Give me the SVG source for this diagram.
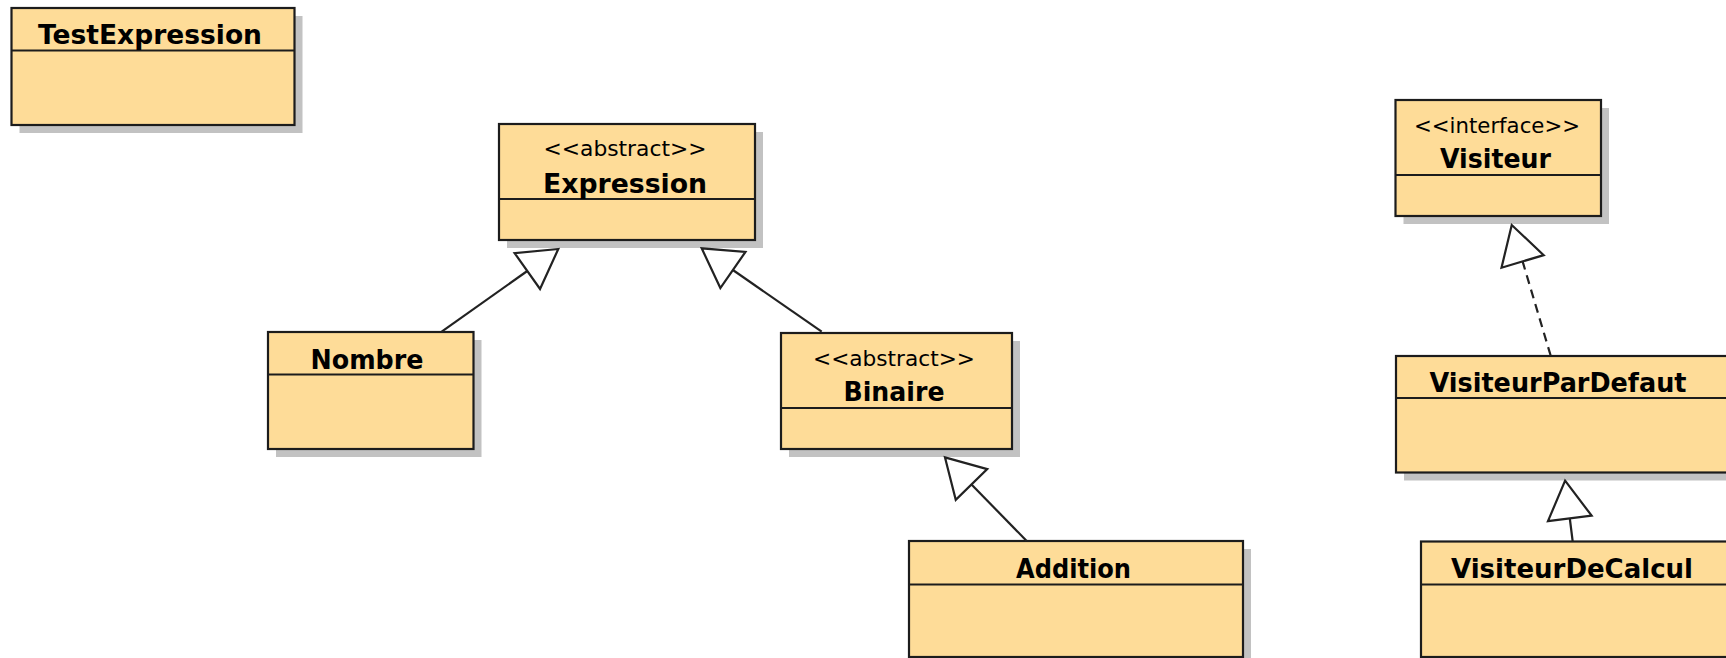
<svg xmlns="http://www.w3.org/2000/svg" width="1726" height="658" viewBox="0 0 1726 658">
<style>
.box{fill:#FEDC98;stroke:#1c1c1c;stroke-width:2.2}
.shadow{fill:#C2C2C2}
.div{stroke:#1c1c1c;stroke-width:2.2}
.name{font-family:"DejaVu Sans","Liberation Sans",sans-serif;font-weight:bold;font-size:26px;fill:#000;text-anchor:middle}
.stereo{font-family:"DejaVu Sans","Liberation Sans",sans-serif;font-size:21px;fill:#000;text-anchor:middle}
.edge{fill:none;stroke:#222;stroke-width:2.2}
.dashed{stroke-dasharray:9 6}
</style>
<defs>
<marker id="gen" markerUnits="userSpaceOnUse" viewBox="-3 -25 44 50" markerWidth="44" markerHeight="50" refX="0" refY="0" orient="auto">
<path d="M38,0 L0,-22 L0,22 Z" fill="#fff" stroke="#222" stroke-width="2.2" stroke-linejoin="miter"/>
</marker>
</defs>
<rect width="1726" height="658" fill="#fff"/>

<g id="TestExpression">
<rect class="shadow" x="19.5" y="16" width="283" height="117"/>
<rect class="box" x="11.5" y="8" width="283" height="117"/>
<line class="div" x1="11.5" y1="50.5" x2="294.5" y2="50.5"/>
<text class="name" x="150" y="43.5" textLength="224" lengthAdjust="spacingAndGlyphs">TestExpression</text>
</g>

<g id="Expression">
<rect class="shadow" x="507" y="132" width="256" height="116"/>
<rect class="box" x="499" y="124" width="256" height="116"/>
<line class="div" x1="499" y1="199" x2="755" y2="199"/>
<text class="stereo" x="625" y="156" textLength="163" lengthAdjust="spacingAndGlyphs">&lt;&lt;abstract&gt;&gt;</text>
<text class="name" x="625" y="192.5" textLength="164" lengthAdjust="spacingAndGlyphs">Expression</text>
</g>

<g id="Nombre">
<rect class="shadow" x="276" y="340" width="205.5" height="117"/>
<rect class="box" x="268" y="332" width="205.5" height="117"/>
<line class="div" x1="268" y1="374.5" x2="473.5" y2="374.5"/>
<text class="name" x="367" y="369" textLength="113" lengthAdjust="spacingAndGlyphs">Nombre</text>
</g>

<g id="Binaire">
<rect class="shadow" x="789" y="341" width="231" height="116"/>
<rect class="box" x="781" y="333" width="231" height="116"/>
<line class="div" x1="781" y1="408" x2="1012" y2="408"/>
<text class="stereo" x="894" y="366" textLength="162" lengthAdjust="spacingAndGlyphs">&lt;&lt;abstract&gt;&gt;</text>
<text class="name" x="894" y="400.7" textLength="101" lengthAdjust="spacingAndGlyphs">Binaire</text>
</g>

<g id="Addition">
<rect class="shadow" x="917" y="549" width="334" height="116"/>
<rect class="box" x="909" y="541" width="334" height="116"/>
<line class="div" x1="909" y1="584.5" x2="1243" y2="584.5"/>
<text class="name" x="1073.5" y="577.5" textLength="115" lengthAdjust="spacingAndGlyphs">Addition</text>
</g>

<g id="Visiteur">
<rect class="shadow" x="1403.5" y="108" width="205.5" height="116"/>
<rect class="box" x="1395.5" y="100" width="205.5" height="116"/>
<line class="div" x1="1395.5" y1="175" x2="1601" y2="175"/>
<text class="stereo" x="1497" y="133" textLength="166" lengthAdjust="spacingAndGlyphs">&lt;&lt;interface&gt;&gt;</text>
<text class="name" x="1495.5" y="168" textLength="111" lengthAdjust="spacingAndGlyphs">Visiteur</text>
</g>

<g id="VisiteurParDefaut">
<rect class="shadow" x="1404" y="364" width="340" height="116.5"/>
<rect class="box" x="1396" y="356" width="340" height="116.5"/>
<line class="div" x1="1396" y1="398" x2="1736" y2="398"/>
<text class="name" x="1558" y="391.5" textLength="257" lengthAdjust="spacingAndGlyphs">VisiteurParDefaut</text>
</g>

<g id="VisiteurDeCalcul">
<rect class="shadow" x="1429" y="549.5" width="320" height="115.5"/>
<rect class="box" x="1421" y="541.5" width="320" height="115.5"/>
<line class="div" x1="1421" y1="584.5" x2="1741" y2="584.5"/>
<text class="name" x="1572" y="577.5" textLength="242" lengthAdjust="spacingAndGlyphs">VisiteurDeCalcul</text>
</g>

<g id="connectors">
<path class="edge" d="M441.7,331.7 L527.3,271.0" marker-end="url(#gen)"/>
<path class="edge" d="M821.7,331.7 L732.9,270.0" marker-end="url(#gen)"/>
<path class="edge" d="M1026.7,541 L971.5,484.5" marker-end="url(#gen)"/>
<path class="edge dashed" d="M1550.7,355.7 L1522.6,261.4" marker-end="url(#gen)"/>
<path class="edge" d="M1572.7,541.7 L1569.8,518.4" marker-end="url(#gen)"/>
</g>
</svg>
